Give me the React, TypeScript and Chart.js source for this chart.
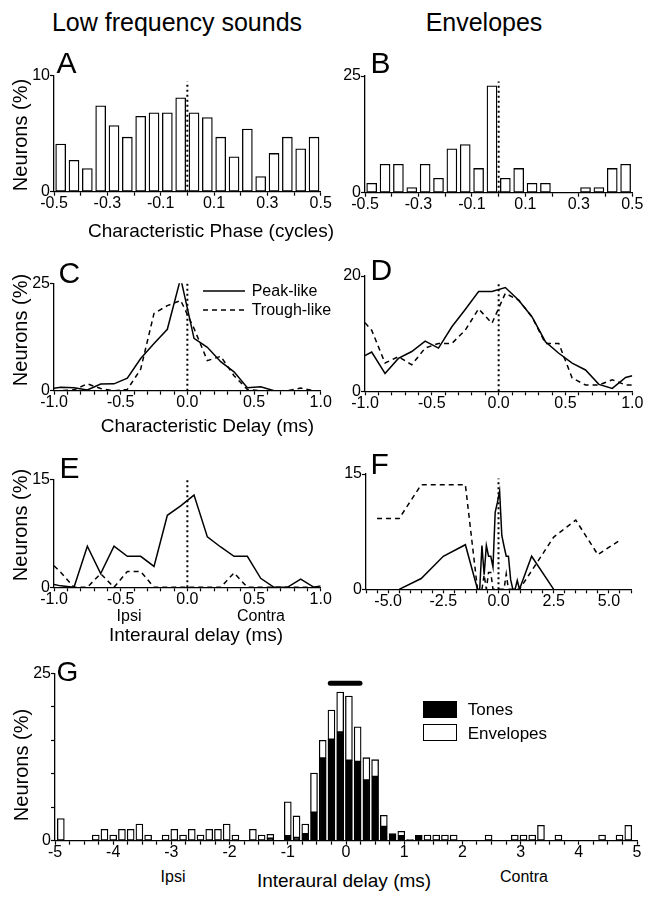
import React, { useEffect, useRef } from 'react';
import { Chart, registerables } from 'chart.js';

Chart.register(...registerables);

const FONT = '"Liberation Sans", Arial, Helvetica, sans-serif';

// ---------- A / B : characteristic phase histograms (bin centres, cycles) ----------
const phaseBins = [-0.475, -0.425, -0.375, -0.325, -0.275, -0.225, -0.175, -0.125, -0.075, -0.025,
  0.025, 0.075, 0.125, 0.175, 0.225, 0.275, 0.325, 0.375, 0.425, 0.475];
const lowFreqPhasePct = [4.1, 2.7, 2.0, 7.4, 5.7, 4.7, 6.5, 6.8, 6.8, 8.1, 6.8, 6.4, 4.7, 3.0, 5.4, 1.3, 3.3, 4.7, 3.7, 4.7];
const envelopePhasePct = [2.0, 6.1, 6.1, 1.1, 6.1, 3.1, 9.4, 10.3, 5.2, 22.9, 3.1, 5.2, 2.0, 2.0, 0, 0, 1.1, 1.1, 5.2, 6.1];

// ---------- C / D / E : delay distributions (ms) ----------
const delayBins = [-1.0, -0.95, -0.85, -0.75, -0.65, -0.55, -0.45, -0.35, -0.25, -0.15, -0.05,
  0.05, 0.15, 0.25, 0.35, 0.45, 0.55, 0.65, 0.75, 0.85, 0.95, 1.0];
const cdLowPeak = [0.55, 0.8, 0.7, 0.15, 1.55, 1.6, 2.9, 7.5, 11.0, 14.3, 26.2, 12.2, 10.1, 6.75, 4.4, 0.7, 0.9, 0, 0, 0, 0, 0];
const cdLowTrough = [0, 0, 0.2, 1.6, 0.5, 0, 0.3, 5.0, 18.0, 19.8, 21.0, 14.5, 7.0, 8.0, 3.5, 0.3, 0, 0, 0, 0.6, 0, 0];
const cdEnvPeak = [6.2, 6.8, 3.1, 5.7, 6.9, 8.7, 7.5, 11.2, 14.2, 17.3, 17.3, 18.0, 15.8, 12.9, 8.6, 6.6, 4.9, 3.7, 1.2, 0.5, 2.4, 2.7];
const cdEnvTrough = [11.9, 10.6, 4.9, 6.0, 4.6, 7.5, 8.3, 8.3, 10.6, 14.3, 11.8, 17.0, 15.8, 12.9, 8.3, 8.3, 2.3, 1.1, 1.1, 2.0, 1.1, 1.1];
const iaLowPeak = [0.4, 0.2, 0, 5.7, 1.9, 5.7, 4.3, 4.3, 2.9, 10.0, 11.3, 12.8, 7.0, 5.6, 4.3, 4.3, 1.25, 0, 0, 1.15, 0, 0.2];
const iaLowTrough = [3.0, 2.1, 0, 0, 1.9, 0, 2.2, 2.2, 0, 0, 0, 0, 0, 0, 2.0, 0, 0, 0, 0, 0, 0, 0];

// ---------- F : interaural delay, envelopes (ms) ----------
const fPeakBins = [-4.5, -3.5, -2.5, -1.5, -0.95, -0.85, -0.75, -0.65, -0.55, -0.45, -0.35, -0.25, -0.15, -0.05,
  0.05, 0.15, 0.25, 0.35, 0.45, 0.55, 0.65, 0.75, 0.85, 0.95, 1.5, 2.5];
const fPeakPct = [0, 1.4, 4.3, 5.8, 0, 0, 5.7, 1.9, 5.7, 4.3, 4.3, 2.9, 10.0, 11.3, 12.8, 7.0, 5.6, 4.3, 4.3, 1.25, 0, 0, 1.15, 0, 4.3, 0];
const fTroughBins = [-5.5, -4.5, -3.5, -2.5, -1.5, -0.95, -0.85, -0.75, -0.65, -0.55, -0.45, -0.35, -0.25, -0.15, -0.05,
  0.05, 0.15, 0.25, 0.35, 0.45, 0.55, 0.65, 0.75, 0.85, 0.95, 1.5, 2.5, 3.5, 4.5, 5.5];
const fTroughPct = [9.2, 9.2, 13.6, 13.6, 13.6, 0, 0, 0, 1.9, 0, 2.2, 2.2, 0, 0, 0, 0, 0, 0, 2.0, 0, 0, 0, 0, 0, 0, 2.4, 6.8, 9.0, 4.5, 6.4];

// ---------- G : interaural delay histogram (bin centres, ms) ----------
const gBins = [-4.9, -4.75, -4.6, -4.45, -4.3, -4.15, -4.0, -3.85, -3.7, -3.55, -3.4, -3.25, -3.1, -2.95, -2.8, -2.65,
  -2.5, -2.35, -2.2, -2.05, -1.9, -1.75, -1.6, -1.45, -1.3, -1.15, -1.0, -0.85, -0.7, -0.55, -0.4, -0.25, -0.1,
  0.05, 0.2, 0.35, 0.5, 0.65, 0.8, 0.95, 1.1, 1.25, 1.4, 1.55, 1.7, 1.85, 2.0, 2.15, 2.3, 2.45, 2.6, 2.75, 2.9,
  3.05, 3.2, 3.35, 3.5, 3.65, 3.8, 3.95, 4.1, 4.25, 4.4, 4.55, 4.7, 4.85];
const gTonesPct = [0, 0, 0, 0, 0, 0, 0, 0, 0, 0, 0, 0, 0, 0, 0, 0, 0, 0, 0, 0,
  0, 0, 0, 0, 0.35, 0, 0.7, 0.45, 1.0, 4.2, 12.3, 15.1, 16.2, 12.0, 11.8, 9.05, 9.55, 2.1, 1.05, 0.7,
  0.15, 0.8, 0, 0, 0, 0, 0, 0, 0, 0, 0, 0, 0, 0, 0, 0, 0, 0, 0, 0, 0, 0, 0, 0, 0, 0];
const gEnvelopesPct = [3.3, 0, 0, 0, 0.85, 1.7, 0.85, 1.7, 1.7, 2.5, 0.85, 0, 0.85, 1.7, 0.85, 1.7, 0.85, 1.7, 1.7, 2.5,
  0.85, 0, 1.7, 0.85, 0.6, 0, 5.1, 3.25, 1.5, 5.9, 2.7, 4.4, 6.0, 9.6, 5.2, 3.35, 2.55, 1.7, 0, 0.7,
  0, 0, 0.85, 0.85, 0.85, 0.85, 0, 0, 0, 0.85, 0, 0, 0.85, 0.85, 0.85, 2.3, 0, 0.85, 0, 0, 0, 0, 0.85, 0, 0.85, 2.3];
const gRangeBar = [-0.27, 0.24];
const gRangeLevel = 23.5;

type Frame = { left: number; top: number; width: number; height: number; plotL: number; plotT: number; plotR: number; plotB: number };

const frames: Record<string, Frame> = {
  A: { left: 26, top: 60, width: 314, height: 160, plotL: 54, plotT: 75.7, plotR: 320.7, plotB: 191.7 },
  B: { left: 336, top: 60, width: 316, height: 160, plotL: 365, plotT: 76, plotR: 632.3, plotB: 192.7 },
  C: { left: 26, top: 266, width: 314, height: 150, plotL: 54, plotT: 283.3, plotR: 320.7, plotB: 390.7 },
  D: { left: 336, top: 260, width: 316, height: 156, plotL: 365, plotT: 276, plotR: 632.3, plotB: 391.3 },
  E: { left: 26, top: 462, width: 314, height: 150, plotL: 54, plotT: 479.3, plotR: 320.7, plotB: 587.3 },
  F: { left: 336, top: 458, width: 316, height: 156, plotL: 366, plotT: 474, plotR: 631, plotB: 589.3 },
  G: { left: 26, top: 656, width: 626, height: 206, plotL: 55, plotT: 673.3, plotR: 637, plotB: 840.7 },
};

type AxisSpec = { min: number; max: number; step: number; label: (v: number) => string; stacked?: boolean };

function buildOptions(f: Frame, x: AxisSpec, y: AxisSpec): any {
  const border = { display: true, color: '#000', width: 1.3 };
  const grid = { display: true, drawOnChartArea: false, color: '#000', tickColor: '#000', tickLength: 4, tickWidth: 1.2, offset: false };
  const font = { family: FONT, size: 16, lineHeight: 1 };
  return {
    animation: false,
    responsive: false,
    devicePixelRatio: 1,
    events: [],
    layout: { padding: { top: f.plotT - f.top, right: f.left + f.width - f.plotR, left: 0, bottom: 0 } },
    plugins: { legend: { display: false }, tooltip: { enabled: false }, title: { display: false } },
    scales: {
      x: {
        type: 'linear', position: 'bottom', min: x.min, max: x.max, offset: false, stacked: !!x.stacked,
        border, grid,
        ticks: { stepSize: x.step, autoSkip: false, maxRotation: 0, minRotation: 0, maxTicksLimit: 1000, padding: 0, color: '#000', font,
          callback: (v: any) => x.label(Number(v)) },
        afterFit: (s: any) => { s.height = f.top + f.height - f.plotB; },
      },
      y: {
        type: 'linear', position: 'left', min: y.min, max: y.max, stacked: !!y.stacked, beginAtZero: true,
        border, grid,
        ticks: { stepSize: y.step, autoSkip: false, maxTicksLimit: 1000, padding: 0, color: '#000', font,
          callback: (v: any) => y.label(Number(v)) },
        afterFit: (s: any) => { s.width = f.plotL - f.left; },
      },
    },
  };
}

const phaseLabel = (v: number) => { const r = Math.round(v * 10); return Math.abs(r) % 2 === 1 ? (r / 10).toFixed(1) : ''; };
const delayLabel = (v: number) => { const r = Math.round(v * 10); return r % 5 === 0 ? (r / 10).toFixed(1) : ''; };
const wideLabel = (v: number) => { const r = Math.round(v * 2); return r % 5 === 0 ? (r / 2).toFixed(1) : ''; };
const gLabel = (v: number) => { const r = Math.round(v * 4); return r % 4 === 0 ? String(r / 4) : ''; };
const ends = (lo: number, hi: number) => (v: number) => (Math.abs(v - lo) < 1e-6 || Math.abs(v - hi) < 1e-6 ? String(v) : '');

const lineDs = (xs: number[], ys: number[], dashed: boolean) => ({
  type: 'line',
  data: xs.map((x, i) => ({ x, y: ys[i] })),
  borderColor: '#000',
  borderWidth: 1.5,
  borderDash: dashed ? [5, 4] : [],
  pointRadius: 0,
  tension: 0,
  fill: false,
});

const zeroLine = (top: number) => ({
  type: 'line',
  data: [{ x: 0, y: 0 }, { x: 0, y: top }],
  borderColor: '#000',
  borderWidth: 2,
  borderDash: [2, 3],
  pointRadius: 0,
  fill: false,
  stack: 'zero',
});

const barDs = (xs: number[], ys: number[], thickness: number, fill: string) => ({
  type: 'bar',
  data: xs.map((x, i) => ({ x, y: ys[i] > 0 ? ys[i] : null })),
  backgroundColor: fill,
  borderColor: '#000',
  borderWidth: 1.3,
  borderSkipped: false,
  barThickness: thickness,
});

const configs: Record<string, () => any> = {
  A: () => ({
    type: 'bar',
    data: { datasets: [barDs(phaseBins, lowFreqPhasePct, 10, '#fff'), zeroLine(9.5)] },
    options: buildOptions(frames.A, { min: -0.5, max: 0.5, step: 0.1, label: phaseLabel }, { min: 0, max: 10, step: 10, label: ends(0, 10) }),
  }),
  B: () => ({
    type: 'bar',
    data: { datasets: [barDs(phaseBins, envelopePhasePct, 10, '#fff'), zeroLine(23.8)] },
    options: buildOptions(frames.B, { min: -0.5, max: 0.5, step: 0.1, label: phaseLabel }, { min: 0, max: 25, step: 25, label: ends(0, 25) }),
  }),
  C: () => ({
    type: 'line',
    data: { datasets: [lineDs(delayBins, cdLowPeak, false), lineDs(delayBins, cdLowTrough, true), zeroLine(25)] },
    options: buildOptions(frames.C, { min: -1, max: 1, step: 0.1, label: delayLabel }, { min: 0, max: 25, step: 25, label: ends(0, 25) }),
  }),
  D: () => ({
    type: 'line',
    data: { datasets: [lineDs(delayBins, cdEnvPeak, false), lineDs(delayBins, cdEnvTrough, true), zeroLine(19)] },
    options: buildOptions(frames.D, { min: -1, max: 1, step: 0.1, label: delayLabel }, { min: 0, max: 20, step: 20, label: ends(0, 20) }),
  }),
  E: () => ({
    type: 'line',
    data: { datasets: [lineDs(delayBins, iaLowPeak, false), lineDs(delayBins, iaLowTrough, true), zeroLine(15)] },
    options: buildOptions(frames.E, { min: -1, max: 1, step: 0.1, label: delayLabel }, { min: 0, max: 15, step: 15, label: ends(0, 15) }),
  }),
  F: () => ({
    type: 'line',
    data: { datasets: [lineDs(fPeakBins, fPeakPct, false), lineDs(fTroughBins, fTroughPct, true), zeroLine(14.4)] },
    options: buildOptions(frames.F, { min: -6, max: 6, step: 0.5, label: wideLabel }, { min: 0, max: 15, step: 15, label: ends(0, 15) }),
  }),
  G: () => ({
    type: 'bar',
    data: {
      datasets: [
        { ...barDs(gBins, gTonesPct, 7, '#000'), stack: 'g' },
        { ...barDs(gBins, gEnvelopesPct, 7, '#fff'), stack: 'g' },
        {
          type: 'line',
          data: [{ x: gRangeBar[0], y: gRangeLevel }, { x: gRangeBar[1], y: gRangeLevel }],
          borderColor: '#000', borderWidth: 5, borderCapStyle: 'round', pointRadius: 0, fill: false, stack: 'range',
        },
      ],
    },
    options: buildOptions(frames.G, { min: -5, max: 5, step: 0.25, label: gLabel, stacked: true }, { min: 0, max: 25, step: 5, label: ends(0, 25), stacked: true }),
  }),
};

function Panel({ id }: { id: string }) {
  const ref = useRef<HTMLCanvasElement>(null);
  const f = frames[id];
  useEffect(() => {
    if (!ref.current) return;
    const chart = new Chart(ref.current, configs[id]());
    return () => chart.destroy();
  }, [id]);
  return (
    <canvas
      ref={ref}
      width={f.width}
      height={f.height}
      style={{ position: 'absolute', left: f.left, top: f.top, width: f.width, height: f.height }}
    />
  );
}

function Txt({ x, y, text, size, align = 'center', rotate = false }: { x: number; y: number; text: string; size: number; align?: 'center' | 'left'; rotate?: boolean }) {
  const tx = align === 'center' ? '-50%' : '0';
  return (
    <div
      style={{
        position: 'absolute', left: x, top: y,
        transform: `translate(${tx}, -50%)${rotate ? ' rotate(-90deg)' : ''}`,
        fontFamily: FONT, fontSize: size, lineHeight: 1, whiteSpace: 'nowrap', color: '#000',
      }}
    >
      {text}
    </div>
  );
}

const letters: [string, number, number, number][] = [
  ['A', 56.5, 62.5, 30], ['B', 370.6, 62.5, 30], ['C', 58.5, 272.5, 30], ['D', 370.6, 270, 30],
  ['E', 59.6, 467.5, 30], ['F', 370.6, 463.5, 30], ['G', 56.6, 671.7, 28],
];

export default function App() {
  return (
    <div style={{ position: 'absolute', left: 0, top: 0, width: 652, height: 899, background: '#fff', overflow: 'hidden' }}>
      {['A', 'B', 'C', 'D', 'E', 'F', 'G'].map((id) => <Panel key={id} id={id} />)}

      <Txt x={177} y={22} text="Low frequency sounds" size={25} />
      <Txt x={484} y={22} text="Envelopes" size={25} />

      {letters.map(([t, x, y, s]) => <Txt key={t} x={x} y={y} text={t} size={s} align="left" />)}

      <Txt x={20} y={134.5} text="Neurons (%)" size={20} rotate />
      <Txt x={20} y={330} text="Neurons (%)" size={20} rotate />
      <Txt x={20} y={525} text="Neurons (%)" size={20} rotate />
      <Txt x={21} y={765} text="Neurons (%)" size={20} rotate />

      <Txt x={211} y={230} text="Characteristic Phase (cycles)" size={19} />
      <Txt x={207.5} y={425} text="Characteristic Delay (ms)" size={19} />
      <Txt x={129} y={616} text="Ipsi" size={16} />
      <Txt x={261} y={616} text="Contra" size={16} />
      <Txt x={196} y={634} text="Interaural delay (ms)" size={19} />

      <Txt x={173} y={877} text="Ipsi" size={16} />
      <Txt x={344} y={880} text="Interaural delay (ms)" size={19} />
      <Txt x={524} y={877} text="Contra" size={16} />

      <svg style={{ position: 'absolute', left: 200, top: 280 }} width={50} height={40}>
        <line x1={3} y1={11} x2={45} y2={11} stroke="#000" strokeWidth={1.5} />
        <line x1={3} y1={30} x2={45} y2={30} stroke="#000" strokeWidth={1.5} strokeDasharray="5 4" />
      </svg>
      <Txt x={251.7} y={291} text="Peak-like" size={16} align="left" />
      <Txt x={251.7} y={310} text="Trough-like" size={16} align="left" />

      <div style={{ position: 'absolute', left: 422.7, top: 701, width: 34, height: 16.7, background: '#000', boxSizing: 'border-box', border: '1.3px solid #000' }} />
      <div style={{ position: 'absolute', left: 422.7, top: 724.3, width: 34, height: 16.7, background: '#fff', boxSizing: 'border-box', border: '1.3px solid #000' }} />
      <Txt x={467.7} y={709.3} text="Tones" size={17} align="left" />
      <Txt x={467.7} y={733} text="Envelopes" size={17} align="left" />
    </div>
  );
}
